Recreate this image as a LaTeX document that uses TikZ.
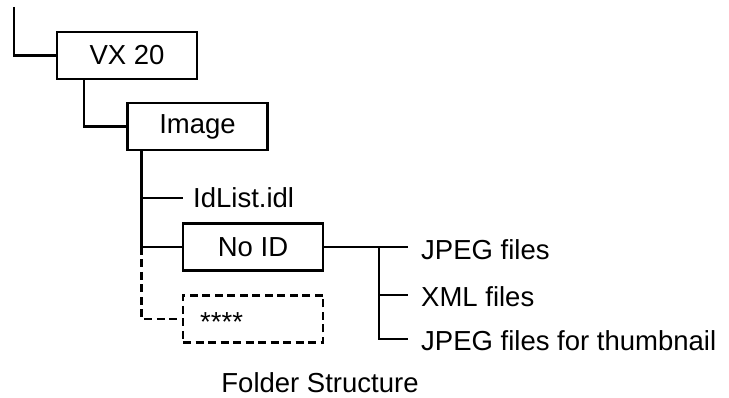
\documentclass[tikz,border=0pt]{standalone}
\usepackage{fontspec}
\setmainfont{Liberation Sans}
\begin{document}
\begin{tikzpicture}[x=1pt,y=-1pt,
  every node/.style={font=\fontsize{27.5}{33}\selectfont},
  box/.style={draw,line width=2.2pt,minimum width=140pt,minimum height=47pt,inner sep=0pt},
  dbox/.style={box,dash pattern=on 8pt off 4.5pt},
  conn/.style={line width=2.2pt},
  dconn/.style={conn,dash pattern=on 8pt off 4.5pt},
  lbl/.style={anchor=west,inner xsep=13pt,inner ysep=0pt}]
\useasboundingbox (0,0) rectangle (729,398);
\node[box] (vx) at (127,55.5) {VX 20};
\node[box] (img) at (197.5,126.5) {Image};
\node[box] (noid) at (253,247) {No ID};
\node[dbox] (star) at (253,319) {};
\node[anchor=base west,inner sep=0pt] (startxt) at (200,332) {****};
\node[anchor=west,inner xsep=10pt,inner ysep=0pt] (idl) at (183,198) {IdList.idl};
\node[lbl] (j1) at (408,249.5) {JPEG files};
\node[lbl] (j2) at (408,297) {XML files};
\node[lbl] (j3) at (408,341) {JPEG files for thumbnail};
\node (cap) at (320,383) {Folder Structure};
\coordinate (top) at (14,7);
\coordinate (a) at ([xshift=15pt]img.south west);
\coordinate (br) at (379,247);
\draw[conn] (top) |- (vx.west);
\draw[conn] ([xshift=28pt]vx.south west) |- (img.west);
\draw[conn] (a) |- (noid.west);
\draw[conn] (a |- idl.west) -- (idl.west);
\draw[dconn] (noid.west -| a) |- (star.west);
\draw[conn] (noid.east) -- (br);
\draw[conn] (br) -- (j1.west |- br);
\draw[conn] (br) |- ([yshift=2pt]j2.west);
\draw[conn] (br) |- ([yshift=2pt]j3.west);
\end{tikzpicture}
\end{document}
